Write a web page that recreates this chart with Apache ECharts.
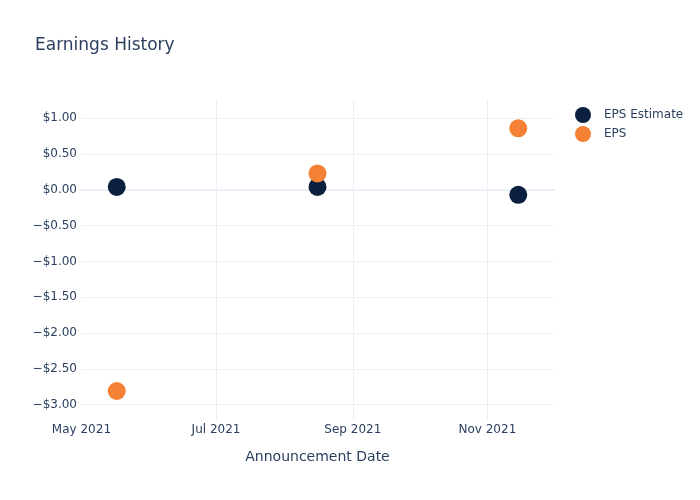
<!DOCTYPE html>
<html><head><meta charset="utf-8">
<script src="https://cdn.jsdelivr.net/npm/echarts@6/dist/echarts.min.js"></script>
<style>html,body{margin:0;padding:0;background:#fff}#c{width:700px;height:500px}</style>
</head><body><div id="c"></div>
<script>
const dates = ['2021-05-17', '2021-08-16', '2021-11-15'];
const epsEstimate = [0.04, 0.04, -0.07];
const eps = [-2.81, 0.23, 0.86];
const xTicks = ['2021-05-01', '2021-07-01', '2021-09-01', '2021-11-01'];
const xTickLabels = ['May 2021', 'Jul 2021', 'Sep 2021', 'Nov 2021'];
const yTicks = [-3, -2.5, -2, -1.5, -1, -0.5, 0, 0.5, 1];

const ts = d => new Date(d + 'T00:00:00Z').getTime();
const DAY = 86400000;
const xTickTs = xTicks.map(ts);
const fmtY = v => (v < 0 ? '\u2212$' : '$') + Math.abs(v).toFixed(2);
const fmtX = v => { const i = xTickTs.indexOf(v); return i >= 0 ? xTickLabels[i] : ''; };

const font = 'DejaVu Sans';
const txt = '#2a3f5f';
const chart = echarts.init(document.getElementById('c'), null, {renderer: 'canvas'});
chart.setOption({
  animation: false,
  backgroundColor: '#fff',
  textStyle: {fontFamily: font},
  title: {text: 'Earnings History', left: 30, top: 32,
    textStyle: {fontFamily: font, fontSize: 17, fontWeight: 'normal', color: txt}},
  legend: {left: 570, top: 102, orient: 'vertical', itemWidth: 32, itemHeight: 16, itemGap: 3,
    icon: 'circle', textStyle: {fontFamily: font, fontSize: 12, color: txt}},
  grid: {left: 81, right: 146, top: 100, bottom: 80, containLabel: false},
  xAxis: {
    type: 'value',
    min: ts(dates[0]) - 16.2 * DAY,
    max: ts(dates[2]) + 16.2 * DAY,
    name: 'Announcement Date', nameLocation: 'middle', nameGap: 30,
    nameTextStyle: {fontFamily: font, fontSize: 14, color: txt},
    axisLine: {show: true, onZero: true, lineStyle: {color: '#EBF0F8', width: 2}},
    axisTick: {show: false, customValues: xTickTs.slice(1)},
    axisLabel: {customValues: xTickTs, formatter: fmtX, fontFamily: font, fontSize: 12, color: txt, margin: 4, hideOverlap: false},
    splitLine: {show: true, lineStyle: {color: '#EBF0F8', width: 1}}
  },
  yAxis: {
    type: 'value', min: -3.215, max: 1.255,
    axisLine: {show: false},
    axisTick: {show: false, customValues: yTicks},
    axisLabel: {customValues: yTicks, formatter: fmtY, fontFamily: font, fontSize: 12, color: txt, margin: 4},
    splitLine: {show: true, lineStyle: {color: '#EBF0F8', width: 1}}
  },
  series: [
    {name: 'EPS Estimate', type: 'scatter', symbolSize: 18, itemStyle: {color: '#0b1f3e', opacity: 1},
     data: dates.map((d, i) => [ts(d), epsEstimate[i]])},
    {name: 'EPS', type: 'scatter', symbolSize: 18, itemStyle: {color: '#f58136', opacity: 1},
     data: dates.map((d, i) => [ts(d), eps[i]])}
  ]
});
</script></body></html>
